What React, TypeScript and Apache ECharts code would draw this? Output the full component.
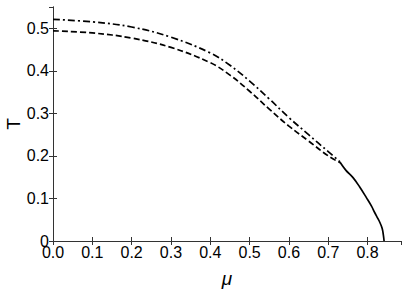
import React, { useEffect, useRef } from "react";
import * as echarts from "echarts";

const dashDotMu = [0, 0.1, 0.2, 0.3, 0.4, 0.45, 0.5, 0.55, 0.6, 0.65, 0.7, 0.73];
const dashDotT = [0.521, 0.515, 0.503, 0.479, 0.442, 0.413, 0.376, 0.334, 0.29, 0.25, 0.21, 0.186];

const dashedMu = [0, 0.1, 0.2, 0.3, 0.4, 0.45, 0.5, 0.55, 0.6, 0.65, 0.7, 0.73];
const dashedT = [0.494, 0.489, 0.477, 0.455, 0.419, 0.39, 0.352, 0.31, 0.27, 0.235, 0.2, 0.184];

const solidMu = [0.73, 0.745, 0.763, 0.78, 0.797, 0.81, 0.818, 0.826, 0.831, 0.837, 0.84, 0.842];
const solidT = [0.185, 0.166, 0.149, 0.127, 0.102, 0.082, 0.067, 0.053, 0.044, 0.03, 0.015, 0];

const xTicks = ["0.0", "0.1", "0.2", "0.3", "0.4", "0.5", "0.6", "0.7", "0.8"];
const yTicks = ["0", "0.1", "0.2", "0.3", "0.4", "0.5"];

const pairs = (xs: number[], ys: number[]) => xs.map((x, i) => [x, ys[i]]);

export default function App() {
  const ref = useRef<HTMLDivElement>(null);
  useEffect(() => {
    if (!ref.current) return;
    const chart = echarts.init(ref.current, undefined, { renderer: "svg" });
    const font = "Liberation Sans";
    const axisLine = { show: true, lineStyle: { color: "#333", width: 1 } };
    const tick = { show: true, inside: true, length: 4, lineStyle: { color: "#333" } };
    const xFmt = (v: number) => {
      const i = Math.round(v * 10);
      return Math.abs(v * 10 - i) < 1e-6 && i < xTicks.length ? xTicks[i] : "";
    };
    const yFmt = (v: number) => {
      const i = Math.round(v * 10);
      return Math.abs(v * 10 - i) < 1e-6 && i < yTicks.length ? yTicks[i] : "";
    };
    chart.setOption({
      animation: false,
      grid: { left: 53, right: 8, top: 7, bottom: 48, show: false, containLabel: false, outerBoundsMode: "none" },
      xAxis: [
        {
          type: "value",
          min: 0,
          max: 0.885,
          interval: 0.1,
          position: "bottom",
          axisLine,
          axisTick: tick,
          splitLine: { show: false },
          axisLabel: { fontFamily: font, fontSize: 16, color: "#000", margin: 3, formatter: xFmt, showMaxLabel: false },
          name: "μ",
          nameLocation: "middle",
          nameGap: 28,
          nameMoveOverlap: false,
          nameTextStyle: { fontFamily: font, fontSize: 19, fontStyle: "italic", color: "#000" },
        },
        {
          type: "value",
          min: 0,
          max: 0.885,
          interval: 0.1,
          position: "top",
          axisLine,
          axisTick: tick,
          splitLine: { show: false },
          axisLabel: { show: false },
        },
      ],
      yAxis: [
        {
          type: "value",
          min: 0,
          max: 0.55,
          interval: 0.1,
          position: "left",
          axisLine,
          axisTick: tick,
          splitLine: { show: false },
          axisLabel: { fontFamily: font, fontSize: 16, color: "#000", margin: 4, formatter: yFmt, showMaxLabel: false },
          name: "T",
          nameLocation: "middle",
          nameGap: 30,
          nameMoveOverlap: false,
          nameTextStyle: { fontFamily: font, fontSize: 19, color: "#000" },
        },
        {
          type: "value",
          min: 0,
          max: 0.55,
          interval: 0.1,
          position: "right",
          axisLine,
          axisTick: tick,
          splitLine: { show: false },
          axisLabel: { show: false },
        },
      ],
      series: [
        {
          type: "line",
          data: pairs(dashDotMu, dashDotT),
          smooth: 0.4,
          symbol: "none",
          lineStyle: { color: "#000", width: 1.7, type: [7, 3, 2, 3] },
        },
        {
          type: "line",
          data: pairs(dashedMu, dashedT),
          smooth: 0.4,
          symbol: "none",
          lineStyle: { color: "#000", width: 1.7, type: [6, 3] },
        },
        {
          type: "line",
          data: pairs(solidMu, solidT),
          smooth: 0.4,
          symbol: "none",
          lineStyle: { color: "#000", width: 1.7, type: "solid" },
        },
      ],
    });
    return () => chart.dispose();
  }, []);
  return (
    <div
      ref={ref}
      style={{ position: "absolute", left: 0, top: 0, width: 409, height: 289, background: "#fff" }}
    />
  );
}
